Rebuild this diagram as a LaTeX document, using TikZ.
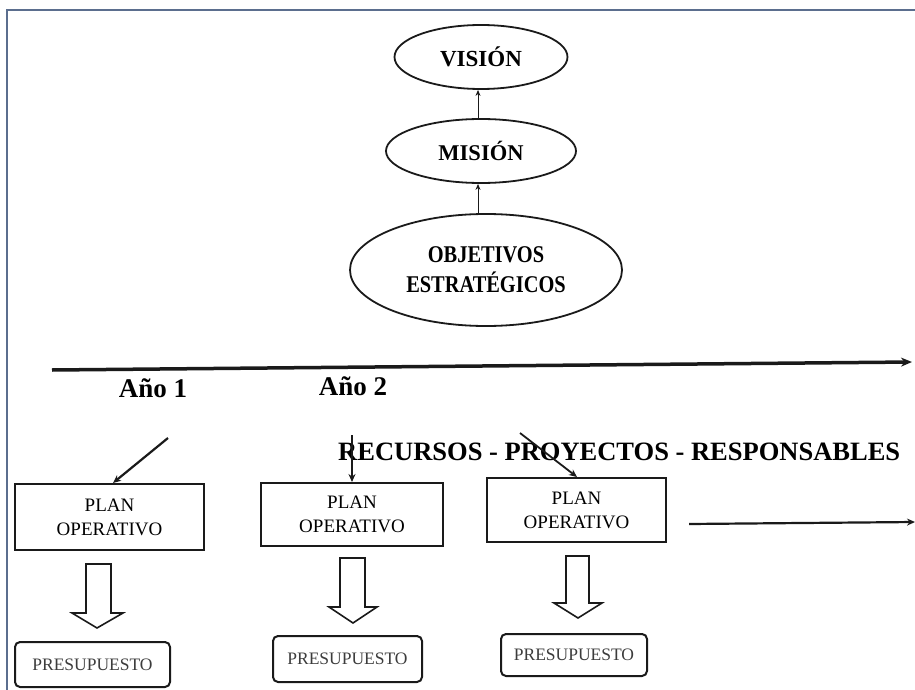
\documentclass[tikz,border=0pt]{standalone}
\usepackage{fontspec}
\setmainfont{Liberation Serif}
\newfontfamily\condserif[FakeStretch=0.85]{Liberation Serif}
\usetikzlibrary{shapes.geometric,arrows.meta}
\definecolor{framecol}{HTML}{5B6E8E}
\definecolor{ink}{HTML}{1A1A1A}
\tikzset{
  ovalnode/.style={ellipse,draw=ink,line width=1.8pt,inner sep=0pt,align=center,font=\bfseries},
  planbox/.style={draw=ink,line width=2pt,minimum width=#1,minimum height=64pt,inner sep=0pt,align=center,font=\fontsize{19}{24}\selectfont},
  budgetbox/.style={draw=ink,line width=2pt,rounded corners=5pt,minimum width=#1,minimum height=44pt,inner sep=0pt,font=\fontsize{17.5}{20}\selectfont\color{ink!85}},
  yearlabel/.style={font=\fontsize{27}{30}\selectfont\bfseries},
  thinarrow/.style={draw=ink,line width=1pt,-{Stealth[open,length=6pt,width=5pt]}},
  darrow/.style={draw=ink,line width=#1,-{Stealth[length=8pt,width=7pt]}},
  blockarrow/.style={draw=ink,line width=1.6pt,fill=white,line join=miter}
}
\begin{document}
\begin{tikzpicture}[x=1pt,y=-1pt]
\useasboundingbox (0,0) rectangle (915,690);
% frame
\draw[framecol,line width=2.5pt] (7,690) -- (7,10) -- (915,10);

% top ellipses
\node[ovalnode,minimum width=173pt,minimum height=64pt,font=\fontsize{23}{26}\selectfont\bfseries] (vis) at (481,57) {VISIÓN};
\node[ovalnode,minimum width=190pt,minimum height=64pt,font=\fontsize{22.5}{26}\selectfont\bfseries] (mis) at (481,151) {MISIÓN};
\node[ovalnode,minimum width=272pt,minimum height=112pt,font=\fontsize{24}{30}\condserif\bfseries] (obj) at (486,270) {OBJETIVOS\\ESTRATÉGICOS};
\draw[thinarrow] (mis.north -| 478,0) -- (vis.south -| 478,0);
\draw[thinarrow] (obj.north -| 478,0) -- (mis.south -| 478,0);

% timeline
\coordinate (tlA) at (52,370);
\coordinate (tlB) at (912,362);
\draw[ink,line width=3.5pt,-{Stealth[length=11pt,width=9pt]}] (tlA) -- (tlB);
\node[yearlabel] (y1) at (153,388) {Año 1};
\node[yearlabel] (y2) at (353,386) {Año 2};

% resources text
\node[anchor=west,inner sep=0pt,font=\fontsize{26.5}{30}\selectfont\bfseries] (rec) at (338,452) {RECURSOS - PROYECTOS - RESPONSABLES};

% plan boxes
\node[planbox=189pt,minimum height=66pt] (p1) at (109.5,517) {PLAN\\OPERATIVO};
\node[planbox=182pt,minimum height=63pt] (p2) at (352,514.5) {PLAN\\OPERATIVO};
\node[planbox=179pt,minimum height=64pt] (p3) at (576.5,510) {PLAN\\OPERATIVO};

% incoming arrows
\coordinate (a1) at (168,438);
\coordinate (a2) at (352,435);
\coordinate (a3) at (520,433);
\draw[darrow=2.2pt] (a1) -- (p1.north -| 113,0);
\draw[darrow=1.2pt] (a2) -- (p2.north -| 352,0);
\draw[darrow=1.8pt] (a3) -- (p3.north -| 577,0);

% right outgoing arrow
\coordinate (out) at (915,522);
\draw[darrow=2.2pt] (p3.east) ++(22,14) coordinate (o1) (o1) -- (out);

% budget boxes
\node[budgetbox=155pt,minimum height=45pt] (b1) at (92.5,664.5) {PRESUPUESTO};
\node[budgetbox=149pt,minimum height=46pt] (b2) at (347.5,659) {PRESUPUESTO};
\node[budgetbox=146pt,minimum height=42pt] (b3) at (574,655) {PRESUPUESTO};

% block arrows (hollow)
\draw[blockarrow] (86,564) -- (111,564) -- (111,613) -- (123,613) -- (97,628) -- (72,613) -- (86,613) -- cycle;
\draw[blockarrow] (340,558) -- (365,558) -- (365,607) -- (377,607) -- (353,623) -- (329,607) -- (340,607) -- cycle;
\draw[blockarrow] (566,556) -- (589,556) -- (589,603) -- (602,603) -- (578,618) -- (554,603) -- (566,603) -- cycle;
\end{tikzpicture}
\end{document}
